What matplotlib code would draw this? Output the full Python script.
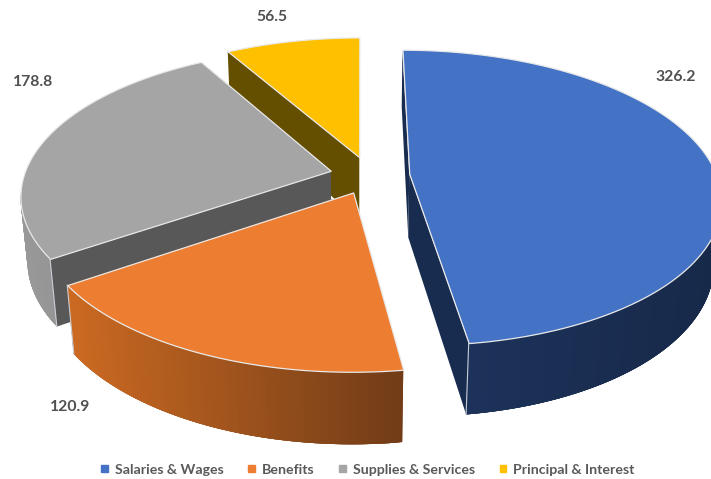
import numpy as np
import matplotlib.pyplot as plt
from matplotlib.collections import PolyCollection
from matplotlib.colors import to_rgb
from matplotlib.patches import Patch

plt.rcParams['font.family'] = ['Lato', 'DejaVu Sans']

# data
labels = ['Salaries & Wages', 'Benefits', 'Supplies & Services', 'Principal & Interest']
values = [326.2, 120.9, 178.8, 56.5]
value_text = ['326.2', '120.9', '178.8', '56.5']

# colours: top, radial side, outer side left and right
top_col = ['#4472C4', '#ED7D31', '#A5A5A5', '#FFC000']
side_col = ['#182C50', '#7A431B', '#585858', '#644E00']
arc_left = ['#1E355F', '#CC6A22', '#999999', '#806000']
arc_right = ['#172949', '#713C17', '#828282', '#806000']

# camera
sin_p = 0.47
cos_p = np.sqrt(1 - sin_p**2)
D = 5.5
f = D * 307
x0 = 360
y0 = 175
shift_x = 9.5 / 307
h = 0.24  # thickness of the pie
expl = 0.13  # how far slices are pulled out


def project(u, v, z):
    d = D + v * cos_p - z * sin_p
    e = v * sin_p + z * cos_p
    return x0 + f * (u + shift_x) / d, y0 - f * e / d


fig = plt.figure(figsize=(7.11, 4.79), dpi=100)
ax = fig.add_axes([0, 0, 1, 1])
ax.set_xlim(0, 711)
ax.set_ylim(479, 0)
ax.axis('off')

vals = np.array(values)
ends = np.cumsum(vals) / vals.sum() * 2 * np.pi
starts = np.r_[0, ends[:-1]]

# back slices first, blue one goes last so it stays on top
for i in [3, 2, 1, 0]:
    z = 10 * (4 - i)
    mid = (starts[i] + ends[i]) / 2
    cu = expl * np.sin(mid)
    cv = expl * np.cos(mid)
    th = np.linspace(starts[i], ends[i], 200)
    u = cu + np.sin(th)
    v = cv + np.cos(th)

    p_top = np.array(project(u, v, 0 * u)).T
    p_low = np.array(project(u, v, 0 * u - h)).T
    apex_top = np.array(project(cu, cv, 0))
    apex_low = np.array(project(cu, cv, -h))

    # radial side walls
    for k in [0, -1]:
        wall = [apex_top, p_top[k], p_low[k], apex_low]
        ax.add_collection(PolyCollection([wall], facecolors=side_col[i], edgecolors='none', zorder=z))

    # outer wall, strips overlap a bit so no seams show, shaded by screen x
    c1 = np.array(to_rgb(arc_left[i]))
    c2 = np.array(to_rgb(arc_right[i]))
    xa, xb = p_top[:, 0].min(), p_top[:, 0].max()
    strips = []
    cols = []
    for j in range(len(th) - 1):
        # only the part that faces the viewer
        if p_top[j + 1, 0] >= p_top[j, 0]:
            continue
        j2 = min(j + 4, len(th) - 1)
        strips.append(np.vstack([p_top[j:j2 + 1], p_low[j:j2 + 1][::-1]]))
        t = (p_top[j, 0] - xa) / (xb - xa)
        cols.append(c1 + (c2 - c1) * t)
    ax.add_collection(PolyCollection(strips, facecolors=cols, edgecolors='none', zorder=z + 1))

    # top face
    poly = np.vstack([apex_top, p_top])
    ax.add_collection(PolyCollection([poly], facecolors=top_col[i], edgecolors='#E9E9E9', linewidths=0.9, zorder=z + 2))

    # light corner lines on the front
    for k in [0, -1]:
        if v[k] < cv and i != 1 or (i == 1 and k == -1):
            ax.plot([p_top[k, 0], p_low[k, 0]], [p_top[k, 1], p_low[k, 1]], color='#C8CDD4', lw=0.8, zorder=z + 3)

# value labels
label_x = [676, 70, 33, 272]
label_y = [77, 407, 82, 17]
for i in range(len(values)):
    ax.text(label_x[i], label_y[i], value_text[i], color='#505050', fontsize=11.3, fontweight='bold',
            ha='center', va='center', zorder=100)

handles = [Patch(color=c) for c in top_col]
ax.legend(handles, labels, loc='center', bbox_to_anchor=(368 / 711, 1 - 469.5 / 479), ncol=4, frameon=False,
          labelcolor='#595959', prop={'weight': 'bold', 'size': 10.2}, handlelength=0.45, handleheight=0.45,
          handletextpad=0.5, columnspacing=1.75, borderpad=0)

fig.savefig('out.png', dpi=100)
